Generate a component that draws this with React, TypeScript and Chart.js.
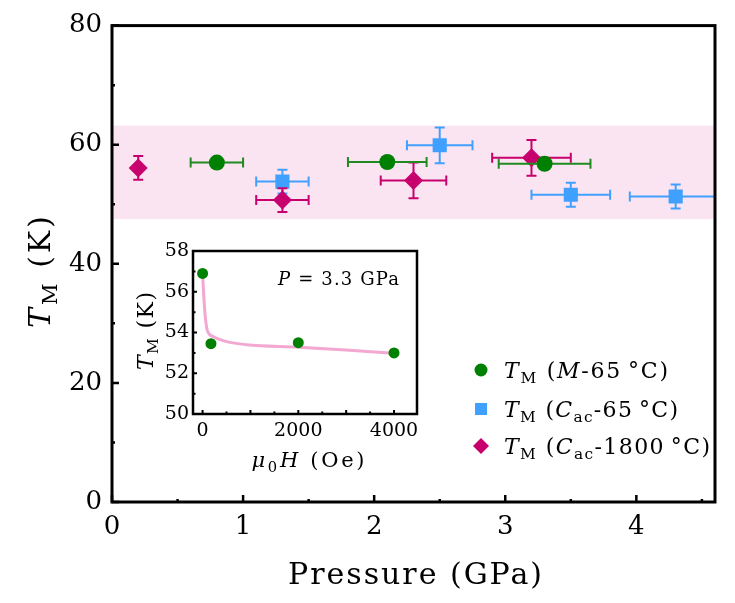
import React, { useEffect, useRef } from 'react';
import { Chart, registerables } from 'chart.js';
Chart.register(...registerables);

// ---------- Main panel data ----------
const mPressure = [0.8, 2.1, 3.3];
const mTemp = [57.0, 57.1, 56.8];
const mPressureErr = [0.2, 0.3, 0.35];
const mTempErr = [0, 0, 0];

const c65Pressure = [1.3, 2.5, 3.5, 4.3];
const c65Temp = [53.8, 59.9, 51.6, 51.3];
const c65PressureErr = [0.2, 0.25, 0.3, 0.35];
const c65TempErr = [2, 3, 2, 2];

const c1800Pressure = [0.2, 1.3, 2.3, 3.2];
const c1800Temp = [56.1, 50.7, 54.0, 57.8];
const c1800PressureErr = [0, 0.2, 0.25, 0.3];
const c1800TempErr = [2, 2, 3, 3];

const bandLow = 47.5;
const bandHigh = 63.2;

const xMajor = [0, 1, 2, 3, 4];
const xMinor = [0.5, 1.5, 2.5, 3.5, 4.5];
const yMajor = [0, 20, 40, 60, 80];
const yMinor = [10, 30, 50, 70];

// ---------- Inset data ----------
const insetField = [0, 175, 2000, 4000];
const insetTemp = [56.9, 53.45, 53.5, 53.0];
const fitField = [0, 25, 55, 100, 220, 500, 920, 2000, 3000, 4000];
const fitTemp = [56.9, 55.8, 54.8, 54.1, 53.8, 53.55, 53.4, 53.28, 53.14, 52.98];
const insetXLabels = [0, 2000, 4000];
const insetXMajor = [0, 1000, 2000, 3000, 4000];
const insetXMinor = [500, 1500, 2500, 3500];
const insetYMajor = [50, 52, 54, 56, 58];
const insetYMinor = [51, 53, 55, 57];

const GREEN = '#008000';
const BLUE = '#40a0ff';
const MAGENTA = '#c8006e';
const PINK_BAND = '#fbe4f1';
const PINK_LINE = '#f3a8d2';
const FAMILY = '"DejaVu Serif", "Liberation Serif", serif';

type Seg = { t: string; it?: boolean; sub?: boolean };

function segFont(s: Seg, size: number) {
  return `${s.it ? 'italic ' : ''}${s.sub ? size * 0.7 : size}px ${FAMILY}`;
}

function richWidth(ctx: CanvasRenderingContext2D, segs: Seg[], size: number) {
  let w = 0;
  for (const s of segs) {
    ctx.font = segFont(s, size);
    w += ctx.measureText(s.t).width;
  }
  return w;
}

function drawRich(ctx: CanvasRenderingContext2D, segs: Seg[], x: number, y: number, size: number, align: 'left' | 'center', target?: number) {
  const c = ctx as any;
  c.letterSpacing = '0px';
  const w0 = richWidth(ctx, segs, size);
  const n = segs.reduce((a, s) => a + s.t.length, 0);
  let ls = 0;
  if (target && n > 1) ls = Math.max(0, (target - w0) / (n - 1));
  const w = w0 + ls * (n - 1);
  let cx = align === 'center' ? x - w / 2 : x;
  ctx.textAlign = 'left';
  ctx.textBaseline = 'alphabetic';
  ctx.fillStyle = '#000';
  c.letterSpacing = `${ls}px`;
  for (const s of segs) {
    ctx.font = segFont(s, size);
    ctx.fillText(s.t, cx, s.sub ? y + size * 0.22 : y);
    cx += ctx.measureText(s.t).width;
  }
  c.letterSpacing = '0px';
}

function drawRotated(ctx: CanvasRenderingContext2D, segs: Seg[], x: number, y: number, size: number, target?: number) {
  ctx.save();
  ctx.translate(x, y);
  ctx.rotate(-Math.PI / 2);
  drawRich(ctx, segs, 0, 0, size, 'center', target);
  ctx.restore();
}

const errorBarPlugin = {
  id: 'errorBars',
  beforeDatasetDraw(chart: any, args: any) {
    const ds = chart.data.datasets[args.index];
    if (!ds.errX) return;
    const { ctx, chartArea } = chart;
    const xs = chart.scales.x;
    const ys = chart.scales.y;
    ctx.save();
    ctx.beginPath();
    ctx.rect(chartArea.left, chartArea.top, chartArea.width, chartArea.height);
    ctx.clip();
    ctx.strokeStyle = ds.errColor;
    ctx.lineWidth = 2;
    const cap = 5;
    ds.data.forEach((p: any, i: number) => {
      const px = xs.getPixelForValue(p.x);
      const py = ys.getPixelForValue(p.y);
      const ex = ds.errX[i];
      const ey = ds.errY[i];
      ctx.beginPath();
      if (ex > 0) {
        const x1 = xs.getPixelForValue(p.x - ex);
        const x2 = xs.getPixelForValue(p.x + ex);
        ctx.moveTo(x1, py); ctx.lineTo(x2, py);
        ctx.moveTo(x1, py - cap); ctx.lineTo(x1, py + cap);
        ctx.moveTo(x2, py - cap); ctx.lineTo(x2, py + cap);
      }
      if (ey > 0) {
        const y1 = ys.getPixelForValue(p.y - ey);
        const y2 = ys.getPixelForValue(p.y + ey);
        ctx.moveTo(px, y1); ctx.lineTo(px, y2);
        ctx.moveTo(px - cap, y1); ctx.lineTo(px + cap, y1);
        ctx.moveTo(px - cap, y2); ctx.lineTo(px + cap, y2);
      }
      ctx.stroke();
    });
    ctx.restore();
  },
};

const bandPlugin = {
  id: 'band',
  beforeDatasetsDraw(chart: any, _a: any, opts: any) {
    if (!opts || opts.low === undefined) return;
    const { ctx, chartArea } = chart;
    const ys = chart.scales.y;
    const t = ys.getPixelForValue(opts.high);
    const b = ys.getPixelForValue(opts.low);
    ctx.save();
    ctx.fillStyle = opts.color;
    ctx.fillRect(chartArea.left, t, chartArea.width, b - t);
    ctx.restore();
  },
};

const framePlugin = {
  id: 'frame',
  afterDraw(chart: any, _a: any, opts: any) {
    const { ctx, chartArea } = chart;
    const xs = chart.scales.x;
    const ys = chart.scales.y;
    ctx.save();
    ctx.strokeStyle = '#000';
    ctx.lineWidth = opts.tickWidth;
    ctx.beginPath();
    for (const v of opts.xMajor) { const p = xs.getPixelForValue(v); ctx.moveTo(p, chartArea.bottom); ctx.lineTo(p, chartArea.bottom - opts.majorLen); }
    for (const v of opts.xMinor) { const p = xs.getPixelForValue(v); ctx.moveTo(p, chartArea.bottom); ctx.lineTo(p, chartArea.bottom - opts.minorLen); }
    for (const v of opts.yMajor) { const p = ys.getPixelForValue(v); ctx.moveTo(chartArea.left, p); ctx.lineTo(chartArea.left + opts.majorLen, p); }
    for (const v of opts.yMinor) { const p = ys.getPixelForValue(v); ctx.moveTo(chartArea.left, p); ctx.lineTo(chartArea.left + opts.minorLen, p); }
    ctx.stroke();
    ctx.lineWidth = opts.width;
    ctx.strokeRect(chartArea.left, chartArea.top, chartArea.width, chartArea.height);
    ctx.restore();
    if (opts.draw) opts.draw(ctx, chart);
  },
};

function drawMainLabels(ctx: CanvasRenderingContext2D) {
  drawRich(ctx, [{ t: 'Pressure (GPa)' }], 415, 584, 30, 'center', 254);
  drawRotated(ctx, [{ t: 'T', it: true }, { t: 'M', sub: true }, { t: ' (K)' }], 50, 272, 30, 112);
  // legend
  const rows: { y: number; w: number; segs: Seg[] }[] = [
    { y: 370, w: 164, segs: [{ t: 'T', it: true }, { t: 'M', sub: true }, { t: ' (' }, { t: 'M', it: true }, { t: '-65\u2009°C)' }] },
    { y: 409, w: 174, segs: [{ t: 'T', it: true }, { t: 'M', sub: true }, { t: ' (' }, { t: 'C', it: true }, { t: 'ac', sub: true }, { t: '-65\u2009°C)' }] },
    { y: 446, w: 206, segs: [{ t: 'T', it: true }, { t: 'M', sub: true }, { t: ' (' }, { t: 'C', it: true }, { t: 'ac', sub: true }, { t: '-1800\u2009°C)' }] },
  ];
  const mx = 481;
  ctx.save();
  ctx.fillStyle = GREEN;
  ctx.beginPath(); ctx.arc(mx, rows[0].y, 6.5, 0, Math.PI * 2); ctx.fill();
  ctx.fillStyle = BLUE;
  ctx.fillRect(mx - 6, rows[1].y - 6, 12, 12);
  ctx.fillStyle = MAGENTA;
  ctx.beginPath();
  ctx.moveTo(mx - 8, rows[2].y); ctx.lineTo(mx, rows[2].y - 8); ctx.lineTo(mx + 8, rows[2].y); ctx.lineTo(mx, rows[2].y + 8);
  ctx.closePath(); ctx.fill();
  ctx.restore();
  for (const r of rows) drawRich(ctx, r.segs, 504, r.y + 8, 22, 'left', r.w);
}

function drawInsetLabels(ctx: CanvasRenderingContext2D) {
  // inset canvas is offset by (120, 235)
  drawRich(ctx, [{ t: 'P', it: true }, { t: ' = 3.3 GPa' }], 278 - 120, 285 - 235, 18, 'left', 121);
  drawRotated(ctx, [{ t: 'T', it: true }, { t: 'M', sub: true }, { t: ' (K)' }], 153 - 120, 331 - 235, 22, 78);
  drawRich(ctx, [{ t: 'μ', it: true }, { t: '0', sub: true }, { t: 'H', it: true }, { t: ' (Oe)' }], 308 - 120, 467 - 235, 21, 'center', 113);
}

export default function App() {
  const mainRef = useRef<HTMLCanvasElement>(null);
  const insetRef = useRef<HTMLCanvasElement>(null);

  useEffect(() => {
    const mk = (xs: number[], ys: number[]) => xs.map((x, i) => ({ x, y: ys[i] }));
    const main = new Chart(mainRef.current!, {
      type: 'scatter',
      data: {
        datasets: [
          {
            label: 'M-65',
            data: mk(mPressure, mTemp),
            pointStyle: 'circle',
            pointRadius: 8,
            backgroundColor: GREEN,
            borderColor: GREEN,
            borderWidth: 0,
            errX: mPressureErr,
            errY: mTempErr,
            errColor: '#1f8a1f',
          } as any,
          {
            label: 'C1800',
            data: mk(c1800Pressure, c1800Temp),
            pointStyle: 'rectRot',
            pointRadius: 9.5,
            backgroundColor: MAGENTA,
            borderColor: MAGENTA,
            borderWidth: 0,
            errX: c1800PressureErr,
            errY: c1800TempErr,
            errColor: MAGENTA,
          } as any,
          {
            label: 'C65',
            data: mk(c65Pressure, c65Temp),
            pointStyle: 'rect',
            pointRadius: 10,
            backgroundColor: BLUE,
            borderColor: BLUE,
            borderWidth: 0,
            errX: c65PressureErr,
            errY: c65TempErr,
            errColor: BLUE,
          } as any,
        ],
      },
      options: {
        responsive: false,
        animation: false,
        layout: { padding: { top: 24, right: 20, left: 0, bottom: 0 } },
        plugins: {
          legend: { display: false },
          tooltip: { enabled: false },
          band: { low: bandLow, high: bandHigh, color: PINK_BAND },
          frame: { xMajor, xMinor, yMajor, yMinor, majorLen: 7, minorLen: 3, tickWidth: 2.5, width: 3, draw: drawMainLabels },
        } as any,
        scales: {
          x: {
            type: 'linear',
            min: 0,
            max: 4.6,
            grid: { display: false, drawTicks: false },
            border: { display: false },
            ticks: { stepSize: 1, includeBounds: false, padding: 10, color: '#000', font: { family: FAMILY, size: 26 }, callback: (v: any) => String(v) },
            afterFit: (s: any) => { s.height = 101; },
          },
          y: {
            type: 'linear',
            min: 0,
            max: 80,
            grid: { display: false, drawTicks: false },
            border: { display: false },
            ticks: { stepSize: 20, padding: 10, color: '#000', font: { family: FAMILY, size: 26 }, callback: (v: any) => String(v) },
            afterFit: (s: any) => { s.width = 112; },
          },
        },
      },
      plugins: [errorBarPlugin, bandPlugin, framePlugin],
    });

    const inset = new Chart(insetRef.current!, {
      type: 'scatter',
      data: {
        datasets: [
          {
            label: 'data',
            data: mk(insetField, insetTemp),
            pointStyle: 'circle',
            pointRadius: 5.5,
            backgroundColor: GREEN,
            borderColor: GREEN,
            borderWidth: 0,
          },
          {
            label: 'fit',
            data: mk(fitField, fitTemp),
            showLine: true,
            pointRadius: 0,
            borderColor: PINK_LINE,
            borderWidth: 3,
            cubicInterpolationMode: 'monotone',
          } as any,
        ],
      },
      options: {
        responsive: false,
        animation: false,
        layout: { padding: { top: 16, right: 13, left: 0, bottom: 0 } },
        plugins: {
          legend: { display: false },
          tooltip: { enabled: false },
          frame: { xMajor: insetXMajor, xMinor: insetXMinor, yMajor: insetYMajor, yMinor: insetYMinor, majorLen: 4, minorLen: 2.5, tickWidth: 2, width: 2.5, draw: drawInsetLabels },
        } as any,
        scales: {
          x: {
            type: 'linear',
            min: -200,
            max: 4480,
            grid: { display: false, drawTicks: false },
            border: { display: false },
            afterBuildTicks: (s: any) => { s.ticks = insetXLabels.map((v) => ({ value: v })); },
            ticks: { padding: 6, color: '#000', font: { family: FAMILY, size: 19 }, callback: (v: any) => String(v) },
            afterFit: (s: any) => { s.height = 66; },
          },
          y: {
            type: 'linear',
            min: 50,
            max: 58,
            grid: { display: false, drawTicks: false },
            border: { display: false },
            ticks: { stepSize: 2, padding: 4, color: '#000', font: { family: FAMILY, size: 19 }, callback: (v: any) => String(v) },
            afterFit: (s: any) => { s.width = 73; },
          },
        },
      },
      plugins: [framePlugin],
    });

    return () => {
      main.destroy();
      inset.destroy();
    };
  }, []);

  return (
    <div style={{ position: 'fixed', left: 0, top: 0, width: 735, height: 603, background: '#fff' }}>
      <canvas ref={mainRef} width={735} height={603} style={{ position: 'absolute', left: 0, top: 0 }} />
      <canvas ref={insetRef} width={310} height={245} style={{ position: 'absolute', left: 120, top: 235 }} />
    </div>
  );
}
